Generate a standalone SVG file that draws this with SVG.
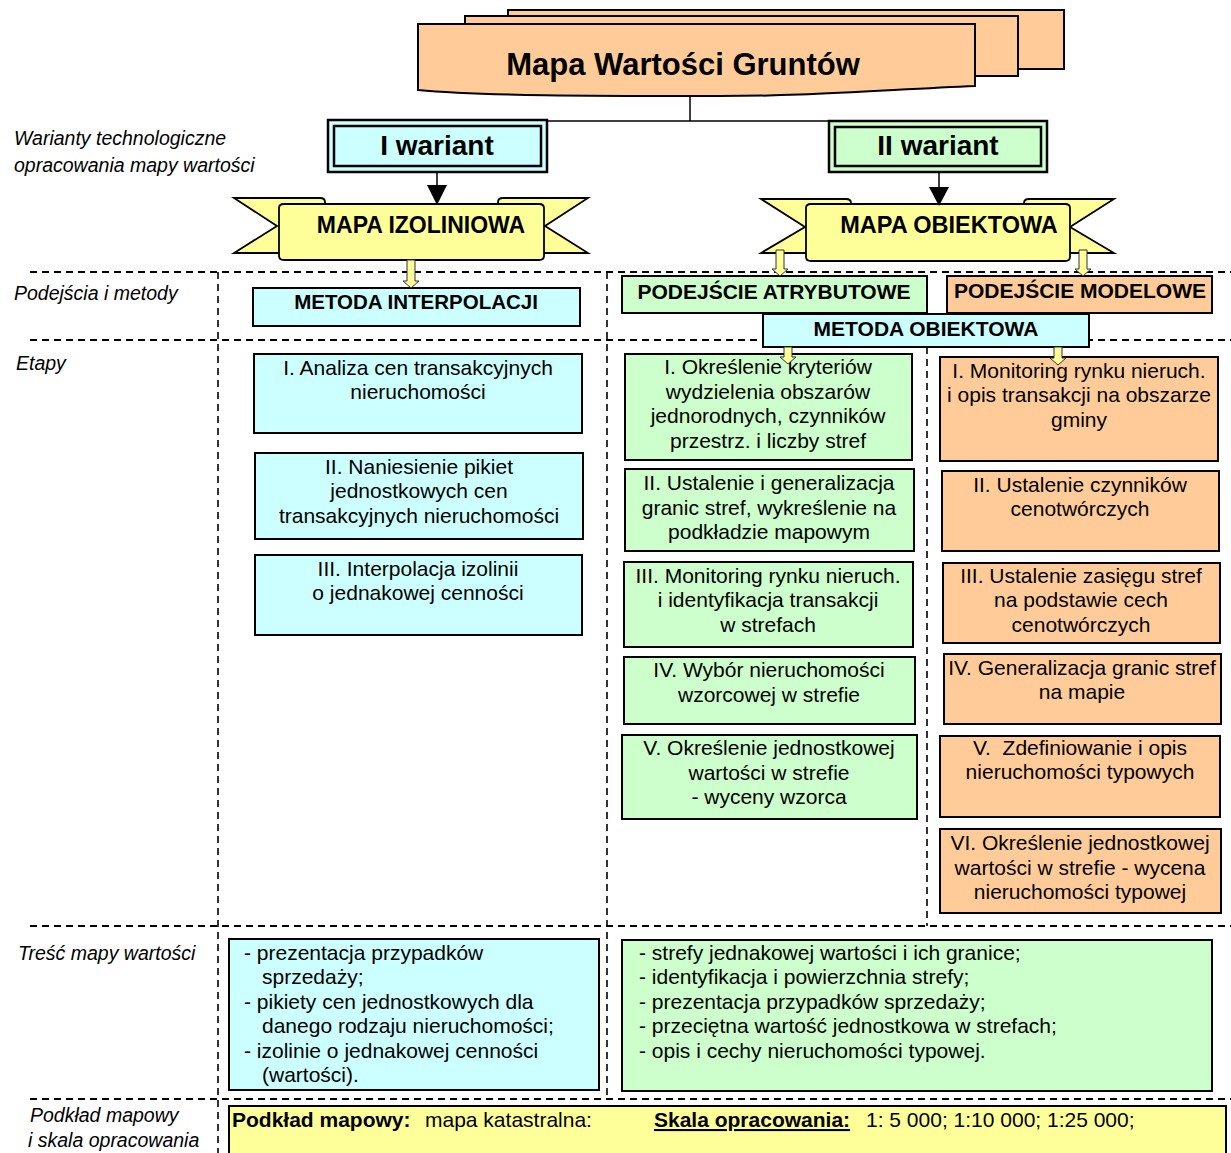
<svg xmlns="http://www.w3.org/2000/svg" width="1231" height="1153" viewBox="0 0 1231 1153">
<style>
.t{font-family:"Liberation Sans",Arial,sans-serif;font-size:21px;fill:#000}
.c{text-anchor:middle}
.b{font-weight:bold}
.lbl{font-family:"Liberation Sans",Arial,sans-serif;font-style:italic;font-size:19.5px;fill:#000}
.bx{stroke:#000;stroke-width:2}
.cy{fill:#CCFFFF}.gr{fill:#CCFFCC}.or{fill:#FFCC99}.ye{fill:#FFFF99}
.dash{stroke:#000;stroke-width:2;stroke-dasharray:7 5;fill:none}
.dv{stroke:#000;stroke-width:1.6;stroke-dasharray:7 5;fill:none}
.ln{stroke:#000;stroke-width:1.5;fill:none}
.ya{fill:#FFFF99;stroke:#333;stroke-width:1}
.rb{fill:#FFFF99;stroke:#000;stroke-width:1.8}
</style>

<g id="grid">
<line class="dash" x1="30" y1="272" x2="1231" y2="272"/>
<line class="dash" x1="30" y1="340" x2="1231" y2="340"/>
<line class="dash" x1="30" y1="926" x2="1231" y2="926"/>
<line class="dash" x1="30" y1="1099" x2="1231" y2="1099"/>
<line class="dv" x1="218" y1="272" x2="218" y2="1153"/>
<line class="dv" x1="607" y1="272" x2="607" y2="1099"/>
<line class="dv" x1="927" y1="347" x2="927" y2="926"/>
</g>

<g id="labels">
<text class="lbl" x="14" y="145">Warianty technologiczne</text>
<text class="lbl" x="14" y="172">opracowania mapy wartości</text>
<text class="lbl" x="14" y="300">Podejścia i metody</text>
<text class="lbl" x="16" y="370">Etapy</text>
<text class="lbl" x="18" y="960">Treść mapy wartości</text>
<text class="lbl" x="30" y="1122">Podkład mapowy</text>
<text class="lbl" x="28" y="1147">i skala opracowania</text>
</g>

<g id="title">
<rect class="or bx" x="508" y="10" width="556" height="59"/>
<rect class="or bx" x="465" y="16" width="553" height="60"/>
<path class="or bx" d="M418,24 H975 V86 C880,90 800,97 700,96 C600,96 480,96 418,90 Z"/>
<text class="t b c" x="683" y="75" style="font-size:31px">Mapa Wartości Gruntów</text>
</g>

<g id="variant1">
<rect class="cy" x="328" y="120" width="219" height="52" stroke="#000" stroke-width="2.5"/>
<rect fill="none" x="334" y="126" width="207" height="40" stroke="#000" stroke-width="2.5"/>
<text class="t b c" x="437" y="155" style="font-size:28px">I wariant</text>
</g>

<g id="variant2">
<rect class="gr" x="829" y="121" width="218" height="51" stroke="#000" stroke-width="2.5"/>
<rect fill="none" x="835" y="127" width="206" height="39" stroke="#000" stroke-width="2.5"/>
<text class="t b c" x="938" y="155" style="font-size:28px">II wariant</text>
</g>

<g id="ribbon1">
<path class="rb" d="M234,198 H320 Q325,198 325,202 V253 H234 L277,226 Z"/>
<path class="rb" d="M588,198 H503 Q498,198 498,202 V253 H588 L545,226 Z"/>
<path class="rb" d="M279,208 Q279,204 284,204 H539 Q544,204 544,208 V256 Q544,260 539,260 H284 Q279,260 279,256 Z"/>
<text class="t b c" x="421" y="233" style="font-size:23px">MAPA IZOLINIOWA</text>
</g>

<g id="ribbon2">
<path class="rb" d="M761,199 H846 Q851,199 851,203 V253 H761 L805,227 Z"/>
<path class="rb" d="M1114,199 H1029 Q1024,199 1024,203 V253 H1114 L1070,227 Z"/>
<path class="rb" d="M806,208 Q806,204 811,204 H1065 Q1070,204 1070,208 V257 Q1070,261 1065,261 H811 Q806,261 806,257 Z"/>
<text class="t b c" x="949" y="233" style="font-size:23.5px">MAPA OBIEKTOWA</text>
</g>

<g id="metoda-interpolacji">
<rect class="cy bx" x="253" y="288" width="327" height="38"/>
<text class="t b c" x="416" y="309" style="font-size:20.5px">METODA INTERPOLACJI</text>
</g>

<g id="podejscie-atrybutowe">
<rect class="gr bx" x="622" y="276" width="305" height="37"/>
<text class="t b c" x="774" y="299">PODEJŚCIE ATRYBUTOWE</text>
</g>

<g id="podejscie-modelowe">
<rect class="or bx" x="947" y="276" width="265" height="37"/>
<text class="t b c" x="1080" y="298">PODEJŚCIE MODELOWE</text>
</g>

<g id="metoda-obiektowa">
<rect class="cy bx" x="763" y="314" width="326" height="33"/>
<text class="t b c" x="926" y="336">METODA OBIEKTOWA</text>
</g>

<g id="izo-1">
<rect class="cy bx" x="254" y="354" width="328" height="79"/>
<text class="t c" x="418" y="375">I. Analiza cen transakcyjnych</text>
<text class="t c" x="418" y="399">nieruchomości</text>
</g>
<g id="izo-2">
<rect class="cy bx" x="255" y="453" width="328" height="86"/>
<text class="t c" x="419" y="474">II. Naniesienie pikiet</text>
<text class="t c" x="419" y="498">jednostkowych cen</text>
<text class="t c" x="419" y="523">transakcyjnych nieruchomości</text>
</g>
<g id="izo-3">
<rect class="cy bx" x="255" y="555" width="327" height="80"/>
<text class="t c" x="418" y="576">III. Interpolacja izolinii</text>
<text class="t c" x="418" y="600">o jednakowej cenności</text>
</g>

<g id="atr-1">
<rect class="gr bx" x="625" y="354" width="287" height="106"/>
<text class="t c" x="768" y="374">I. Określenie kryteriów</text>
<text class="t c" x="768" y="399">wydzielenia obszarów</text>
<text class="t c" x="768" y="423">jednorodnych, czynników</text>
<text class="t c" x="768" y="448">przestrz. i liczby stref</text>
</g>
<g id="atr-2">
<rect class="gr bx" x="625" y="469" width="289" height="82"/>
<text class="t c" x="769" y="490">II. Ustalenie i generalizacja</text>
<text class="t c" x="769" y="515">granic stref, wykreślenie na</text>
<text class="t c" x="769" y="539">podkładzie mapowym</text>
</g>
<g id="atr-3">
<rect class="gr bx" x="624" y="562" width="289" height="85"/>
<text class="t c" x="768" y="583">III. Monitoring rynku nieruch.</text>
<text class="t c" x="768" y="607">i identyfikacja transakcji</text>
<text class="t c" x="768" y="632">w strefach</text>
</g>
<g id="atr-4">
<rect class="gr bx" x="624" y="657" width="291" height="67"/>
<text class="t c" x="769" y="677">IV. Wybór nieruchomości</text>
<text class="t c" x="769" y="702">wzorcowej w strefie</text>
</g>
<g id="atr-5">
<rect class="gr bx" x="622" y="735" width="295" height="84"/>
<text class="t c" x="769" y="755">V. Określenie jednostkowej</text>
<text class="t c" x="769" y="780">wartości w strefie</text>
<text class="t c" x="769" y="804">- wyceny wzorca</text>
</g>

<g id="mod-1">
<rect class="or bx" x="940" y="357" width="278" height="104"/>
<text class="t c" x="1079" y="378">I. Monitoring rynku nieruch.</text>
<text class="t c" x="1079" y="402">i opis transakcji na obszarze</text>
<text class="t c" x="1079" y="427">gminy</text>
</g>
<g id="mod-2">
<rect class="or bx" x="942" y="471" width="277" height="80"/>
<text class="t c" x="1080" y="492">II. Ustalenie czynników</text>
<text class="t c" x="1080" y="516">cenotwórczych</text>
</g>
<g id="mod-3">
<rect class="or bx" x="943" y="563" width="277" height="80"/>
<text class="t c" x="1081" y="583">III. Ustalenie zasięgu stref</text>
<text class="t c" x="1081" y="607">na podstawie cech</text>
<text class="t c" x="1081" y="632">cenotwórczych</text>
</g>
<g id="mod-4">
<rect class="or bx" x="944" y="654" width="277" height="70"/>
<text class="t c" x="1082" y="675">IV. Generalizacja granic stref</text>
<text class="t c" x="1082" y="699">na mapie</text>
</g>
<g id="mod-5">
<rect class="or bx" x="940" y="736" width="280" height="81"/>
<text class="t c" x="1080" y="755" xml:space="preserve">V.  Zdefiniowanie i opis</text>
<text class="t c" x="1080" y="779">nieruchomości typowych</text>
</g>
<g id="mod-6">
<rect class="or bx" x="940" y="829" width="281" height="84"/>
<text class="t c" x="1080" y="850">VI. Określenie jednostkowej</text>
<text class="t c" x="1080" y="875">wartości w strefie - wycena</text>
<text class="t c" x="1080" y="899">nieruchomości typowej</text>
</g>

<g id="tresc-izo">
<rect class="cy bx" x="229" y="939" width="370" height="151"/>
<text class="t" x="244" y="960">- prezentacja przypadków</text>
<text class="t" x="262" y="984">sprzedaży;</text>
<text class="t" x="244" y="1009">- pikiety cen jednostkowych dla</text>
<text class="t" x="262" y="1033">danego rodzaju nieruchomości;</text>
<text class="t" x="244" y="1058">- izolinie o jednakowej cenności</text>
<text class="t" x="262" y="1082">(wartości).</text>
</g>

<g id="tresc-obj">
<rect class="gr bx" x="622" y="940" width="590" height="151"/>
<text class="t" x="639" y="960">- strefy jednakowej wartości i ich granice;</text>
<text class="t" x="639" y="984">- identyfikacja i powierzchnia strefy;</text>
<text class="t" x="639" y="1009">- prezentacja przypadków sprzedaży;</text>
<text class="t" x="639" y="1033">- przeciętna wartość jednostkowa w strefach;</text>
<text class="t" x="639" y="1058">- opis i cechy nieruchomości typowej.</text>
</g>

<g id="podklad">
<rect class="ye bx" x="229" y="1106" width="997" height="60"/>
<text class="t" x="232" y="1127"><tspan class="b">Podkład mapowy:</tspan></text>
<text class="t" x="425" y="1127">mapa katastralna:</text>
<text class="t b" x="654" y="1127" text-decoration="underline">Skala opracowania:</text>
<text class="t" x="866" y="1127">1: 5 000; 1:10 000; 1:25 000;</text>
</g>

<g id="connectors">
<line class="ln" x1="690" y1="96" x2="690" y2="121"/>
<line class="ln" x1="547" y1="121" x2="829" y2="121"/>
<line class="ln" x1="437" y1="172" x2="437" y2="186"/>
<polygon points="427,185 447,185 437,205" fill="#000"/>
<line class="ln" x1="939" y1="172" x2="939" y2="188"/>
<polygon points="929,187 949,187 939,206" fill="#000"/>
<polygon class="ya" points="407,260 415,260 415,281 419,281 411,288 403,281 407,281"/>
<polygon class="ya" points="776,250 784,250 784,269 788,269 780,276 772,269 776,269"/>
<polygon class="ya" points="1079,250 1087,250 1087,269 1091,269 1083,276 1075,269 1079,269"/>
<polygon class="ya" points="784,347 792,347 792,357 796,357 788,364 780,357 784,357"/>
<polygon class="ya" points="1054,347 1062,347 1062,358 1066,358 1058,365 1050,358 1054,358"/>
</g>
</svg>
